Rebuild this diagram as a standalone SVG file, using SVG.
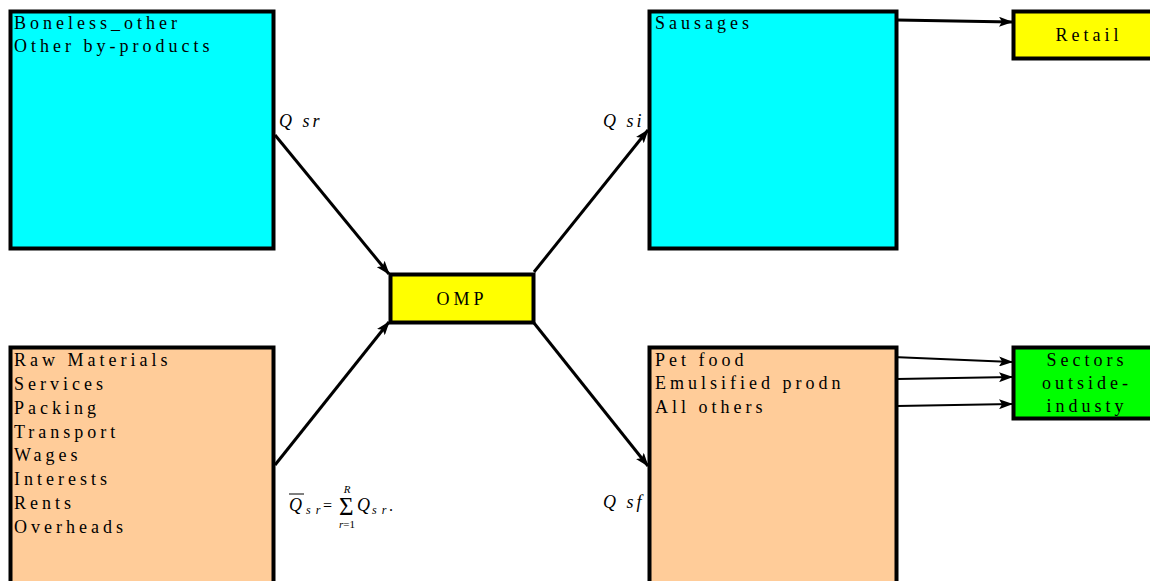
<svg xmlns="http://www.w3.org/2000/svg" width="1150" height="581" viewBox="0 0 1150 581">
<style>
.box{stroke:#000;stroke-width:4}
.cyan{fill:#00ffff}
.peach{fill:#ffcc99}
.yellow{fill:#ffff00}
.green{fill:#00ff00}
.t{font-family:"Liberation Serif","Times New Roman",serif;font-size:18px;letter-spacing:4px;fill:#000}
.q{font-family:"Liberation Serif","Times New Roman",serif;font-size:18px;font-style:italic;letter-spacing:3px;fill:#000}
.f{font-family:"Liberation Serif","Times New Roman",serif;fill:#000}
.c{fill:none;stroke:#000;stroke-width:3}
.c2{fill:none;stroke:#000;stroke-width:2}
</style>
<defs>
<marker id="ah" viewBox="0 0 14 10" refX="13" refY="5" markerWidth="14" markerHeight="10" markerUnits="userSpaceOnUse" orient="auto">
<path d="M0,0 L14,5 L0,10 L3,5 Z" fill="#000"/>
</marker>
</defs>
<g id="connectors">
<line class="c" x1="275" y1="135" x2="389" y2="274" marker-end="url(#ah)"/>
<line class="c" x1="275" y1="465" x2="389" y2="322" marker-end="url(#ah)"/>
<line class="c" x1="534" y1="272" x2="648" y2="130" marker-end="url(#ah)"/>
<line class="c" x1="534" y1="323" x2="648" y2="466" marker-end="url(#ah)"/>
<line class="c" x1="897" y1="20" x2="1012" y2="22" marker-end="url(#ah)"/>
<line class="c2" x1="893" y1="357" x2="1012" y2="362" marker-end="url(#ah)"/>
<line class="c2" x1="897" y1="379" x2="1012" y2="377" marker-end="url(#ah)"/>
<line class="c2" x1="897" y1="406" x2="1012" y2="404" marker-end="url(#ah)"/>
</g>
<g id="boneless">
<rect class="box cyan" x="10.5" y="11.5" width="263" height="237"/>
<text class="t" x="14" y="29">Boneless_other</text>
<text class="t" x="14" y="52">Other by-products</text>
</g>
<g id="raw">
<rect class="box peach" x="10.5" y="347.5" width="263" height="240"/>
<text class="t" x="14" y="366">Raw Materials</text>
<text class="t" x="14" y="390">Services</text>
<text class="t" x="14" y="414">Packing</text>
<text class="t" x="14" y="438">Transport</text>
<text class="t" x="14" y="461">Wages</text>
<text class="t" x="14" y="485">Interests</text>
<text class="t" x="14" y="509">Rents</text>
<text class="t" x="14" y="533">Overheads</text>
</g>
<g id="omp">
<rect class="box yellow" x="390.5" y="274.5" width="143" height="48"/>
<text class="t" x="462" y="305" text-anchor="middle">OMP</text>
</g>
<g id="sausages">
<rect class="box cyan" x="649.5" y="11.5" width="247" height="237"/>
<text class="t" x="655" y="29">Sausages</text>
</g>
<g id="petfood">
<rect class="box peach" x="649.5" y="347.5" width="247" height="240"/>
<text class="t" x="655" y="366">Pet food</text>
<text class="t" x="655" y="389">Emulsified prodn</text>
<text class="t" x="655" y="413">All others</text>
</g>
<g id="retail">
<rect class="box yellow" x="1013.5" y="11.5" width="145" height="47"/>
<text class="t" x="1089" y="41" text-anchor="middle">Retail</text>
</g>
<g id="sectors">
<rect class="box green" x="1013.5" y="347.5" width="145" height="71"/>
<text class="t" x="1087" y="366" text-anchor="middle">Sectors</text>
<text class="t" x="1087" y="389" text-anchor="middle">outside-</text>
<text class="t" x="1087" y="412" text-anchor="middle">industy</text>
</g>
<g id="labels">
<text class="q" x="279" y="127">Q sr</text>
<text class="q" x="603" y="127">Q si</text>
<text class="q" x="603" y="508">Q sf</text>
<g id="formula">
<line x1="289" y1="494" x2="304" y2="494" stroke="#000" stroke-width="1"/>
<text class="f" x="289" y="511" font-size="18" font-style="italic">Q</text>
<text class="f" x="306" y="514" font-size="12" font-style="italic" letter-spacing="1">s r</text>
<text class="f" x="323" y="511" font-size="16">=</text>
<text class="f" x="339" y="515" font-size="25">Σ</text>
<text class="f" x="347" y="493" font-size="11" font-style="italic" text-anchor="middle">R</text>
<text class="f" x="347" y="528" font-size="11" text-anchor="middle"><tspan font-style="italic">r</tspan>=1</text>
<text class="f" x="357" y="511" font-size="18" font-style="italic">Q</text>
<text class="f" x="372" y="514" font-size="12" font-style="italic" letter-spacing="1">s r</text>
<text class="f" x="389" y="511" font-size="16">.</text>
</g>
</g>
</svg>
